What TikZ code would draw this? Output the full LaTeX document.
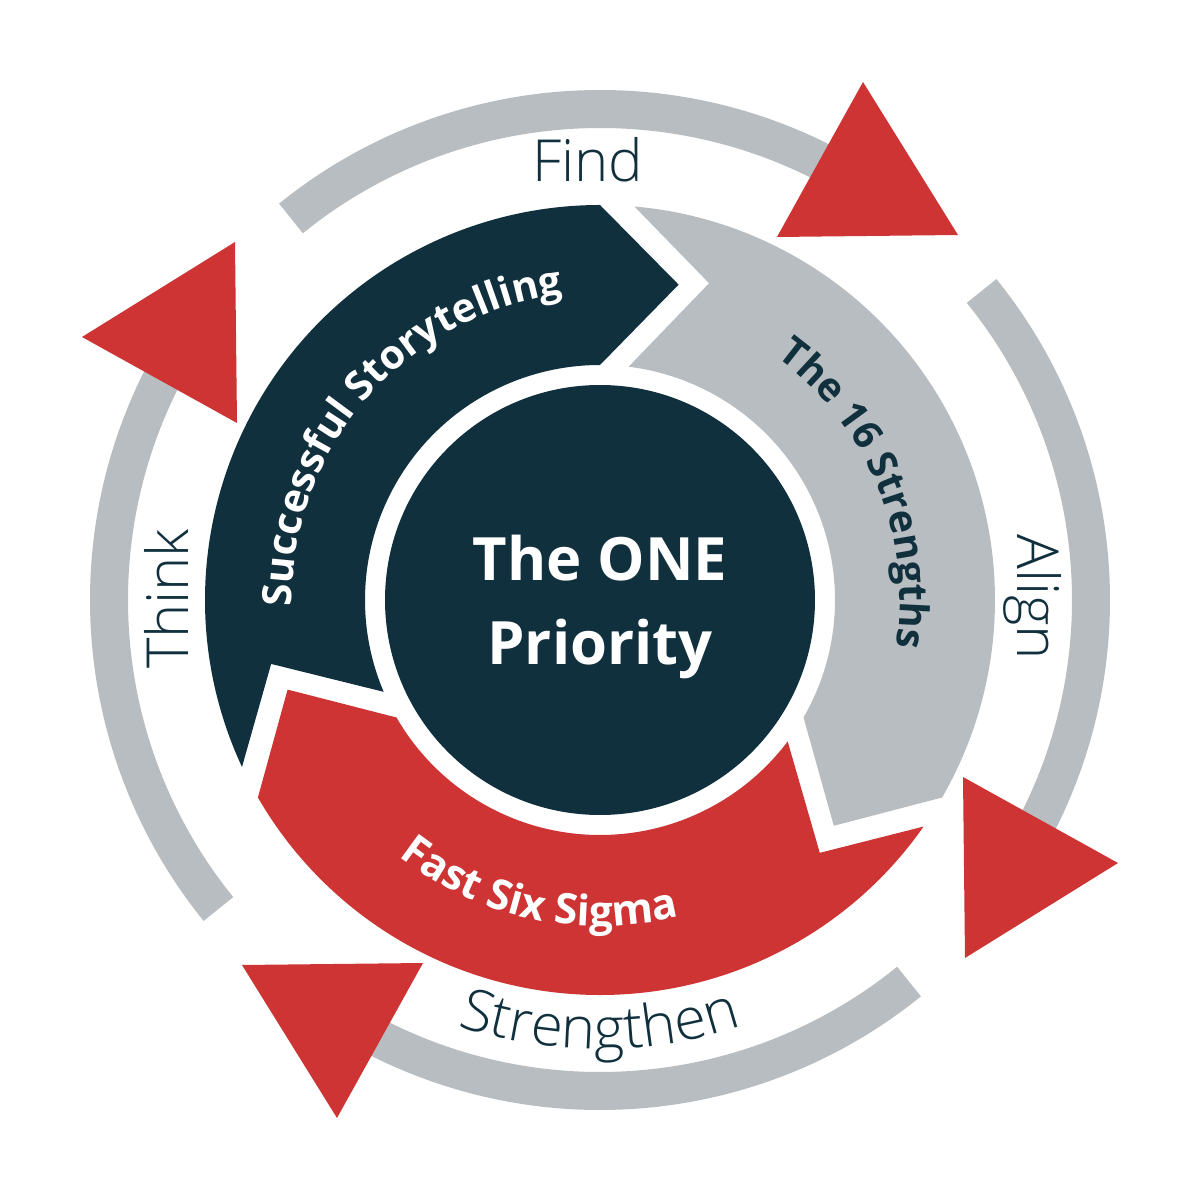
\documentclass[tikz,border=0pt]{standalone}
\usepackage{fontspec}
\setmainfont{Open Sans}
\newfontfamily\ringfont{Open Sans}[UprightFont=* Light]
\usetikzlibrary{decorations.text}
\definecolor{cyclenavy}{HTML}{11303E}
\definecolor{cyclegray}{HTML}{B8BDC1}
\definecolor{cyclered}{HTML}{CD3433}

\begin{document}
\begin{tikzpicture}[x=0.1mm, y=0.1mm,
        ringarc/.style={draw=cyclegray, line width=3.8mm},
        ringlabel/.style={font=\ringfont\fontsize{16.5}{19}\selectfont, text=cyclenavy}]
        \path[fill=white] (-600,-600) rectangle (600,600);
        \useasboundingbox (-600,-600) rectangle (600,600);

        \foreach \t/\h/\c in {205/90/cyclenavy, 85/-30/cyclegray, -35/-150/cyclered}
          \fill[\c] (\t:395) arc[start angle=\t, end angle=\h, radius=395] -- (\h-14:325)
            -- (\h:235) arc[start angle=\h, end angle=\t-2, radius=235] -- (\t-14:335) -- cycle;

        \node[circle, fill=cyclenavy, minimum size=43mm, inner sep=0pt] (core) at (0,0) {};
        \node[align=center, text=white, font=\bfseries\fontsize{17}{24}\selectfont]
          (priority) at (0,-7) {The ONE\\Priority};

        \path[decorate, decoration={text along path, text align=center, text color=white,
            text={|\bfseries\fontsize{11.5}{14}\selectfont|Successful Storytelling}}]
          (189:308) arc[start angle=189, end angle=89, radius=308];
        \path[decorate, decoration={text along path, text align=center, text color=cyclenavy,
            text={|\bfseries\fontsize{11.3}{14}\selectfont|The 16 Strengths}}]
          (72.5:300) arc[start angle=72.5, end angle=-27.5, radius=300];
        \path[decorate, decoration={text along path, text align=center, text color=white,
            text={|\bfseries\fontsize{12}{14}\selectfont|Fast Six Sigma}}]
          (-152:326) arc[start angle=-152, end angle=-52, radius=326];

        \foreach \a in {129, 39, -51, -141}
          \draw[ringarc] (\a:491) arc[start angle=\a, end angle=\a-67, radius=491];
        \foreach \r in {0, -90, -180, -270}
          \fill[cyclered, rotate=\r] (263,518) -- (358,365) -- (177,363) -- cycle;

        \node[ringlabel] (find) at (-12,440) {Find};
        \node[ringlabel, rotate=-90] (align) at (433,3) {Align};
        \node[ringlabel, rotate=90] (think) at (-434,1) {Think};
        \path[decorate, decoration={text along path, text align=center, text color=cyclenavy,
            text={|\ringfont\fontsize{16.5}{19}\selectfont|Strengthen}}]
          (-140:449) arc[start angle=-140, end angle=-40, radius=449];
      \end{tikzpicture}
\end{document}
